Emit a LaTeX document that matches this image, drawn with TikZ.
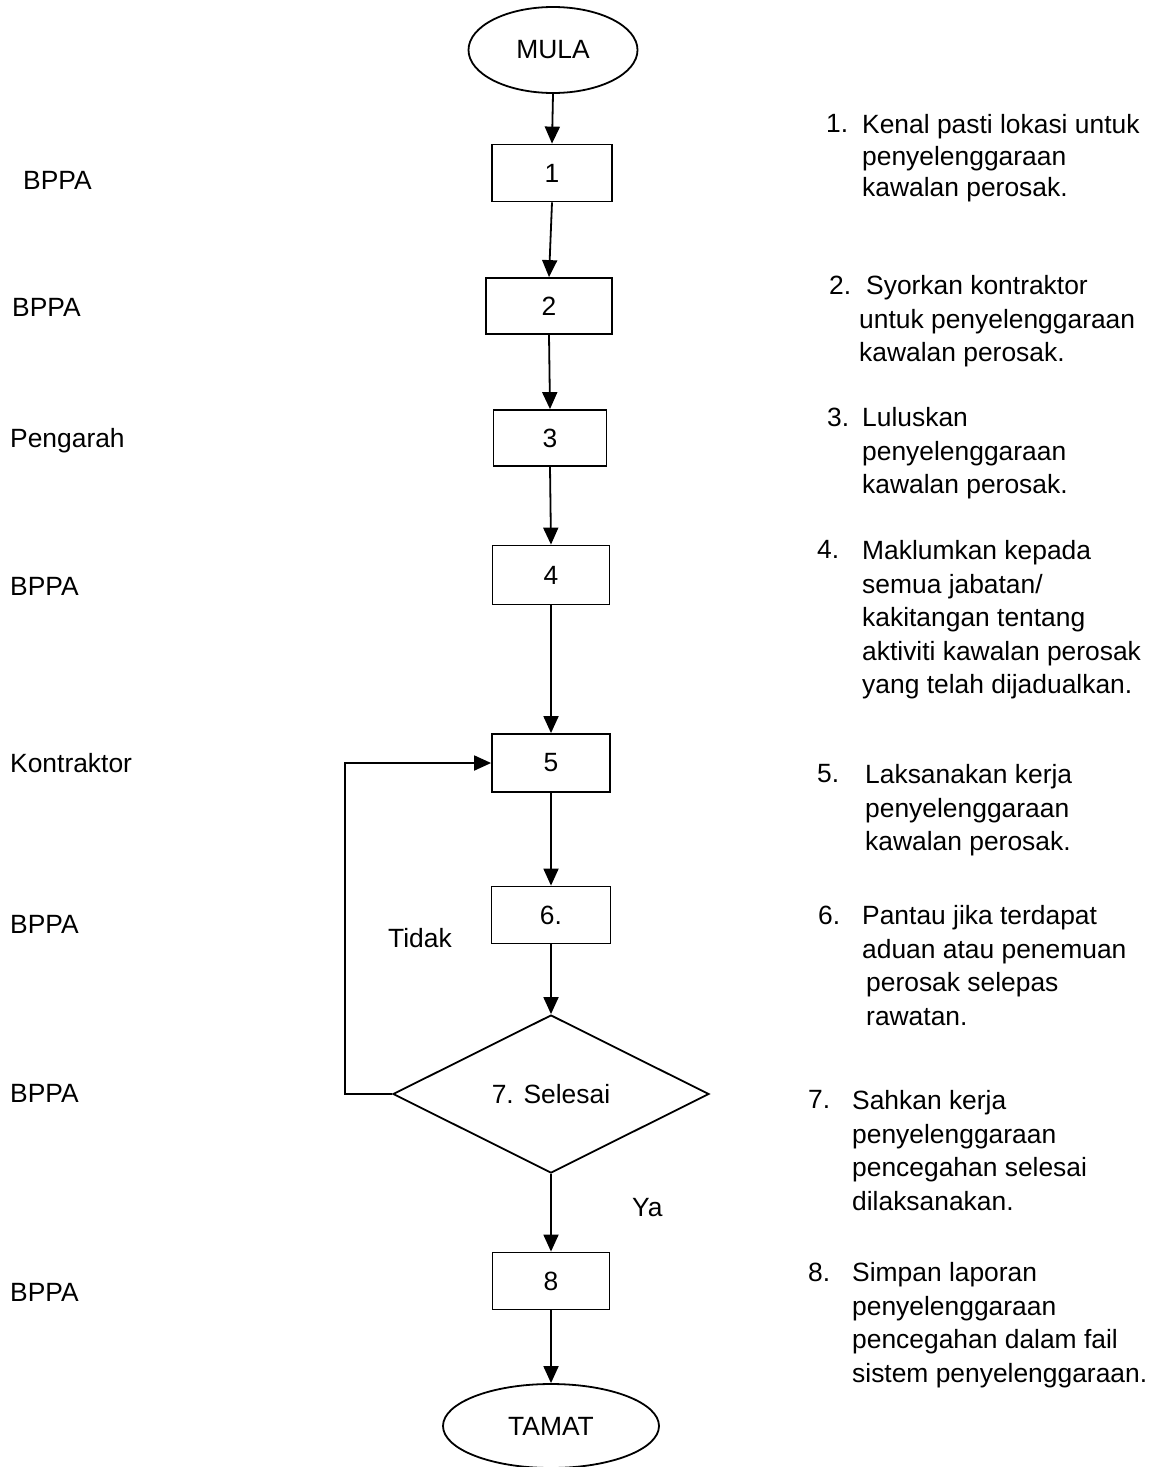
\documentclass[tikz,border=0pt]{standalone}
\usepackage{fontspec}
\setmainfont{Liberation Sans}
\usetikzlibrary{shapes.geometric,arrows.meta}
\begin{document}
\begin{tikzpicture}[x=1pt,y=-1pt,
  every node/.style={font=\fontsize{26.4}{33.5}\selectfont},
  box/.style={draw, line width=1.8pt, minimum width=118pt, minimum height=57pt, inner sep=0pt},
  term/.style={draw, ellipse, line width=1.8pt, inner sep=0pt},
  dec/.style={draw, diamond, line width=1.8pt, inner sep=0pt, minimum width=316pt, minimum height=158pt},
  arr/.style={line width=1.8pt, -{Triangle[length=17pt,width=15pt]}},
  ln/.style={line width=1.8pt},
  lbl/.style={anchor=base west, inner sep=0pt},
  desc/.style={anchor=north west, align=left, inner sep=0pt},
]
\useasboundingbox (0,0) rectangle (1160,1467);

% flow nodes
\node[term, minimum width=169pt, minimum height=86pt] (start) at (553,50) {MULA};
\node[box, minimum width=120pt] (b1) at (552,173) {1};
\node[box, minimum width=126pt, minimum height=56pt] (b2) at (549,306) {2};
\node[box, minimum width=113pt, minimum height=56pt] (b3) at (550,438) {3};
\node[box, minimum width=117pt, minimum height=59pt] (b4) at (551,575) {4};
\node[box, minimum width=118pt, minimum height=58pt] (b5) at (551,763) {5};
\node[box, minimum width=119pt] (b6) at (551,915) {6.};
\node[dec] (d7) at (551,1094) {7. Selesai};
\node[box, minimum width=117pt] (b8) at (551,1281) {8};
\node[term, minimum width=216pt, minimum height=84pt] (end) at (551,1426) {TAMAT};

% connectors
\draw[arr] (start.south) -- (b1.north);
\draw[arr] (b1.south) -- (b2.north);
\draw[arr] (b2.south) -- (b3.north);
\draw[arr] (b3.south) -- (b4.north);
\draw[arr] (b4.south) -- (b5.north);
\draw[arr] (b5.south) -- (b6.north);
\draw[arr] (b6.south) -- (d7.north);
\draw[arr] (d7.south) -- (b8.north);
\draw[arr] (b8.south) -- (end.north);
\coordinate (lc) at (345,930);
\draw[arr] (d7.west) -| (lc) |- (b5.west);

% branch labels
\node[lbl] (tidak) at (388,947) {Tidak};
\node[lbl] (ya) at (632,1216) {Ya};

% left role labels
\node[lbl] (r1) at (23,189) {BPPA};
\node[lbl] (r2) at (12,316) {BPPA};
\node[lbl] (r3) at (10,447) {Pengarah};
\node[lbl] (r4) at (10,595) {BPPA};
\node[lbl] (r5) at (10,772) {Kontraktor};
\node[lbl] (r6) at (10,933) {BPPA};
\node[lbl] (r7) at (10,1102) {BPPA};
\node[lbl] (r8) at (10,1301) {BPPA};

% right descriptions
\node[desc] (n1) at (826,114.5) {1.};
\node[desc, font=\fontsize{26.4}{31.5}\selectfont] (t1) at (862,114.5) {Kenal pasti lokasi untuk\\penyelenggaraan\\kawalan perosak.};
\node[desc] (n2) at (829,275.5) {2.};
\node[desc] (t2) at (859,275.5) {\hspace*{7pt}Syorkan kontraktor\\untuk penyelenggaraan\\kawalan perosak.};
\node[desc] (n3) at (827,407.5) {3.};
\node[desc] (t3) at (862,407.5) {Luluskan\\penyelenggaraan\\kawalan perosak.};
\node[desc] (n4) at (817,540.5) {4.};
\node[desc] (t4) at (862,540.5) {Maklumkan kepada\\semua jabatan/\\kakitangan tentang\\aktiviti kawalan perosak\\yang telah dijadualkan.};
\node[desc] (n5) at (817,764.5) {5.};
\node[desc] (t5) at (865,764.5) {Laksanakan kerja\\penyelenggaraan\\kawalan perosak.};
\node[desc] (n6) at (818,905.5) {6.};
\node[desc] (t6) at (862,905.5) {Pantau jika terdapat\\aduan atau penemuan\\\hspace*{4pt}perosak selepas\\\hspace*{4pt}rawatan.};
\node[desc] (n7) at (808,1090.5) {7.};
\node[desc] (t7) at (852,1090.5) {Sahkan kerja\\penyelenggaraan\\pencegahan selesai\\dilaksanakan.};
\node[desc] (n8) at (808,1262.5) {8.};
\node[desc] (t8) at (852,1262.5) {Simpan laporan\\penyelenggaraan\\pencegahan dalam fail\\sistem penyelenggaraan.};
\end{tikzpicture}
\end{document}
